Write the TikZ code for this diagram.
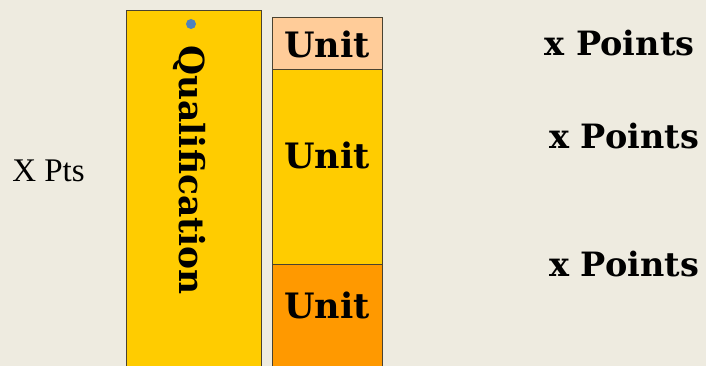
\documentclass[tikz,border=0pt]{standalone}
\usepackage{fontspec}
\setmainfont{DejaVu Serif}
\newfontfamily\ptsfont{Liberation Serif}
\definecolor{bgcream}{HTML}{EEEBE0}
\definecolor{qualyellow}{HTML}{FFCC00}
\definecolor{unitpeach}{HTML}{FFCC99}
\definecolor{unitorange}{HTML}{FF9900}
\definecolor{dotblue}{HTML}{4F81BD}
\definecolor{edgebrown}{HTML}{4A4230}
\begin{document}
\begin{tikzpicture}[x=1pt, y=-1pt,
  box/.style={rectangle, draw=edgebrown, line width=0.9pt, inner sep=0pt, minimum width=110},
  unitlbl/.style={inner sep=0pt, font=\bfseries\fontsize{35}{35}\selectfont},
  ptslbl/.style={inner sep=0pt, font=\bfseries\fontsize{33.5}{33.5}\selectfont}]
\useasboundingbox[fill=bgcream] (0,0) rectangle (706,366);
\node[box, fill=qualyellow, minimum width=135.5, minimum height=370, anchor=north west] (qual) at (125.5,10){};
\node[circle, fill=dotblue, minimum size=10, inner sep=0pt] (dot) at (191,24){};
\node[inner sep=0pt, rotate=-90, font=\bfseries\fontsize{34.5}{34.5}\selectfont] (qualtext) at (189,170){Qualification};
\node[box, fill=unitpeach, minimum height=52, anchor=north west] (unit0) at (272,17){};
\node[box, fill=qualyellow, minimum height=195, anchor=north west] (unit1) at (272,69){};
\node[box, fill=unitorange, minimum height=106, anchor=north west] (unit2) at (272,264){};
\node[unitlbl] (unittext0) at (327,44){Unit};
\node[unitlbl] (unittext1) at (327,155){Unit};
\node[unitlbl] (unittext2) at (327,305){Unit};
\node[ptslbl] (pts0) at (619.5,43){x Points};
\node[ptslbl] (pts1) at (624,136){x Points};
\node[ptslbl] (pts2) at (624,264){x Points};
\node[inner sep=0pt, font=\ptsfont\fontsize{33}{33}\selectfont] (total) at (48.5,171){X Pts};

\end{tikzpicture}
\end{document}
